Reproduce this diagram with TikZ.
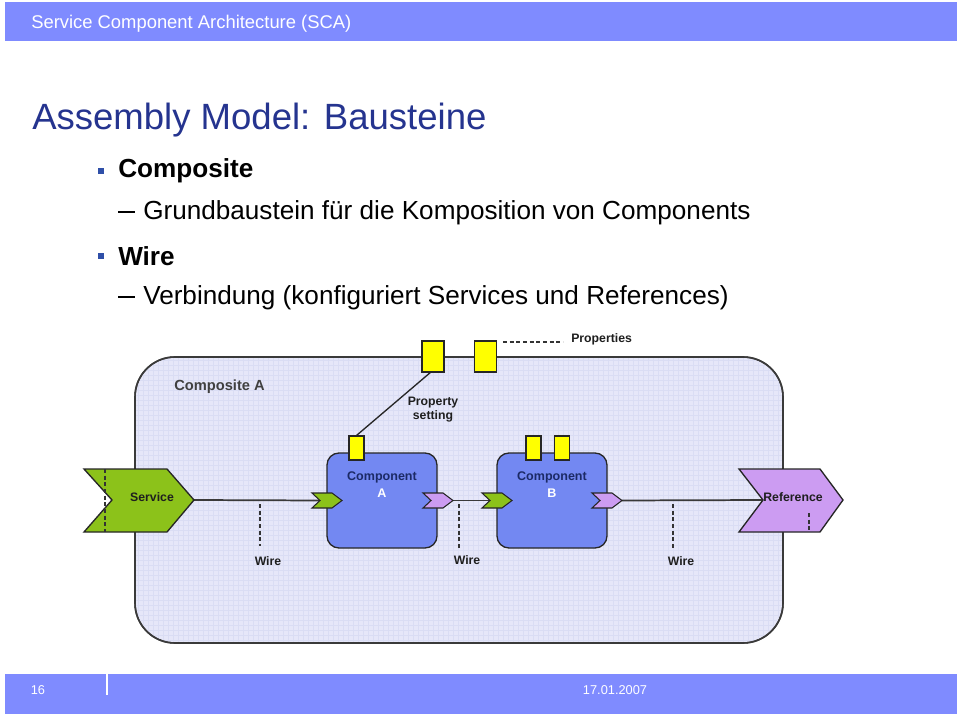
\documentclass[tikz,border=0pt]{standalone}
\usepackage{fontspec}
\setmainfont{Liberation Sans}
\usetikzlibrary{calc}
\definecolor{barblue}{HTML}{7F8BFF}
\definecolor{titleblue}{HTML}{25348F}
\definecolor{bulletblue}{HTML}{2F4FA8}
\definecolor{compfill}{HTML}{E6E7F9}
\definecolor{gridc}{HTML}{DADDF4}
\definecolor{compblue}{HTML}{7388F2}
\definecolor{navytext}{HTML}{1C2A66}
\definecolor{chevgreen}{HTML}{8CC21A}
\definecolor{chevpurple}{HTML}{CC9CF2}
\definecolor{propyellow}{HTML}{FFFF00}
\definecolor{edgegray}{HTML}{3A3A3A}
\tikzset{
  bar/.style={fill=barblue,draw=none},
  bartext/.style={text=white,anchor=center,inner sep=0pt},
  bulletsq/.style={fill=bulletblue,draw=none,minimum size=5pt,inner sep=0pt},
  lvlone/.style={anchor=west,inner sep=0pt,font=\fontsize{19.6}{22}\selectfont\bfseries},
  lvltwo/.style={anchor=west,inner sep=0pt,font=\fontsize{19.6}{22}\selectfont},
  dashrule/.style={draw=black,line width=1.3pt},
  compositebox/.style={draw=edgegray,line width=1.2pt,fill=compfill,rounded corners=30pt,minimum width=486pt,minimum height=214.5pt,inner sep=0pt},
  compbox/.style={draw=black!85,line width=1pt,fill=compblue,rounded corners=9pt,minimum width=82.5pt,minimum height=71.25pt,inner sep=0pt},
  propbox/.style={draw=black!85,line width=0.8pt,fill=propyellow,inner sep=0pt},
  smallprop/.style={propbox,minimum width=11.25pt,minimum height=18pt},
  bigprop/.style={propbox,minimum width=16.5pt,minimum height=23.25pt},
  dlabel/.style={font=\fontsize{9.2}{10.5}\selectfont\bfseries,text=black!88,inner sep=0pt,align=center},
  wire/.style={draw=edgegray,line width=1.3pt},
  wirehint/.style={draw=black!80,dashed,dash pattern=on 3pt off 2pt,line width=0.8pt},
  smallchev/.pic={
    \filldraw[pic actions,line width=0.8pt] (0,0) -- (20,0) -- (30,7.5) -- (20,15) -- (0,15) -- (8,7.5) -- cycle;
    \coordinate (-notch) at (8,7.5);
    \coordinate (-tip) at (30,7.5);
  },
  svcchev/.pic={
    \filldraw[pic actions,line width=1pt] (0,0) -- (83,0) -- (110,31) -- (83,63) -- (0,63) -- (28,31) -- cycle;
    \draw[wirehint] (21,0) -- (21,63);
    \coordinate (-notch) at (28,31);
    \coordinate (-tip) at (110,31);
  },
  refchev/.pic={
    \filldraw[pic actions,line width=1pt] (0,0) -- (81,0) -- (104,31) -- (81,63) -- (0,63) -- (24,31) -- cycle;
    \draw[wirehint] (70,44) -- (70,63);
    \coordinate (-notch) at (24,31);
    \coordinate (-tip) at (104,31);
  },
}
\begin{document}
\begin{tikzpicture}[x=0.75pt,y=-0.75pt]
\useasboundingbox[fill=white] (0,0) rectangle (960,716);
% header bar
\path[bar] (5,2) rectangle (957,41);
\node[bartext,anchor=west,font=\fontsize{13.8}{16}\selectfont] (hdr) at (31,24) {Service Component Architecture (SCA)};
% title
\node[anchor=west,inner sep=0pt,text=titleblue,font=\fontsize{27.4}{32}\selectfont] (title) at (32,120) {Assembly Model: Bausteine};
% bullets
\node[bulletsq] (b1) at (101,171) {};
\node[lvlone] (t1) at (118,171) {Composite};
\coordinate (d1a) at (118,212); \coordinate (d1b) at (135,212);
\draw[dashrule] (d1a) -- (d1b);
\node[lvltwo] (t1a) at (143,213) {Grundbaustein für die Komposition von Components};
\node[bulletsq] (b2) at (101,256) {};
\node[lvlone] (t2) at (118,256) {Wire};
\coordinate (d2a) at (118,297); \coordinate (d2b) at (135,297);
\draw[dashrule] (d2a) -- (d2b);
\node[lvltwo] (t2a) at (143,298) {Verbindung (konfiguriert Services und References)};
% composite
\node[compositebox] (compo) at (459,500) {};
\begin{scope}
  \clip[rounded corners=30pt] (136,358) rectangle (782,642);
  \foreach \gx in {138,143,...,782} {\draw[gridc,line width=0.25pt] (\gx,358) -- (\gx,642);}
  \foreach \gy in {360,365,...,642} {\draw[gridc,line width=0.25pt] (136,\gy) -- (782,\gy);}
\end{scope}
\draw[draw=edgegray,line width=1.2pt,rounded corners=30pt] (135,357) rectangle (783,643);
\node[anchor=west,inner sep=0pt,font=\fontsize{11}{13}\selectfont\bfseries,text=black!75] (compolbl) at (174,387) {Composite A};
% properties on top
\node[bigprop] (prop1) at (433,356.5) {};
\node[bigprop] (prop2) at (485.5,356.5) {};
\node[dlabel,anchor=west] (props) at (571,339) {Properties};
\coordinate (propsdash) at (503,342);
\draw[wirehint] (propsdash) -- (563,342);
% components
\node[compbox] (compA) at (382,500.5) {};
\node[compbox] (compB) at (552,500.5) {};
\node[font=\fontsize{9.4}{11}\selectfont\bfseries,text=navytext,inner sep=0pt] (cAl) at (382,477) {Component};
\node[font=\fontsize{9.4}{11}\selectfont\bfseries,text=white,inner sep=0pt] (cAx) at (382,493) {A};
\node[font=\fontsize{9.4}{11}\selectfont\bfseries,text=navytext,inner sep=0pt] (cBl) at (552,477) {Component};
\node[font=\fontsize{9.4}{11}\selectfont\bfseries,text=white,inner sep=0pt] (cBx) at (552,493) {B};
\node[smallprop] (propA) at (356.5,448) {};
\node[smallprop] (propB1) at (533.5,448) {};
\node[smallprop] (propB2) at (562,448) {};
% property setting
\draw[line width=1pt,black!85] ([xshift=-2]prop1.south) -- (propA.north);
\node[dlabel] (pset) at (433,410) {Property\\setting};
% wires
\coordinate (svctip) at (194,500);
\coordinate (gAnotch) at (320,500.5);
\coordinate (pAtip) at (452,500.5);
\coordinate (gBnotch) at (490,500.5);
\coordinate (pBtip) at (622,500.5);
\coordinate (refnotch) at (763,500);
\draw[wire] (svctip) -- (gAnotch);
\draw[wire] (pAtip) -- (gBnotch);
\draw[wire] (pBtip) -- (refnotch);
% chevrons
\pic[fill=chevgreen,draw=black!85] (svc) at (84,469) {svcchev};
\pic[fill=chevpurple,draw=black!85] (ref) at (739,469) {refchev};
\pic[fill=chevgreen,draw=black!85] (gA) at (312,493) {smallchev};
\pic[fill=chevpurple,draw=black!85] (pA) at (423,493) {smallchev};
\pic[fill=chevgreen,draw=black!85] (gB) at (482,493) {smallchev};
\pic[fill=chevpurple,draw=black!85] (pB) at (592,493) {smallchev};
\node[dlabel] (svcl) at (152,497) {Service};
\node[dlabel] (refl) at (793,497) {Reference};
% wire labels
\coordinate (w1a) at (260,504); \coordinate (w1b) at (260,546);
\coordinate (w2a) at (459,504); \coordinate (w2b) at (459,548);
\coordinate (w3a) at (673,504); \coordinate (w3b) at (673,548);
\draw[wirehint] (w1a) -- (w1b);
\draw[wirehint] (w2a) -- (w2b);
\draw[wirehint] (w3a) -- (w3b);
\node[dlabel] (w1) at (268,561) {Wire};
\node[dlabel] (w2) at (467,560) {Wire};
\node[dlabel] (w3) at (681,561) {Wire};
% footer
\path[bar] (5,674) rectangle (957,714);
\node[bartext,font=\fontsize{9.6}{11}\selectfont] (pg) at (38,690) {16};
\coordinate (sepTop) at (107,674); \coordinate (sepBot) at (107,695);
\draw[white,line width=0.8pt] (sepTop) -- (sepBot);
\node[bartext,font=\fontsize{9.6}{11}\selectfont] (date) at (615,690) {17.01.2007};
\end{tikzpicture}
\end{document}
